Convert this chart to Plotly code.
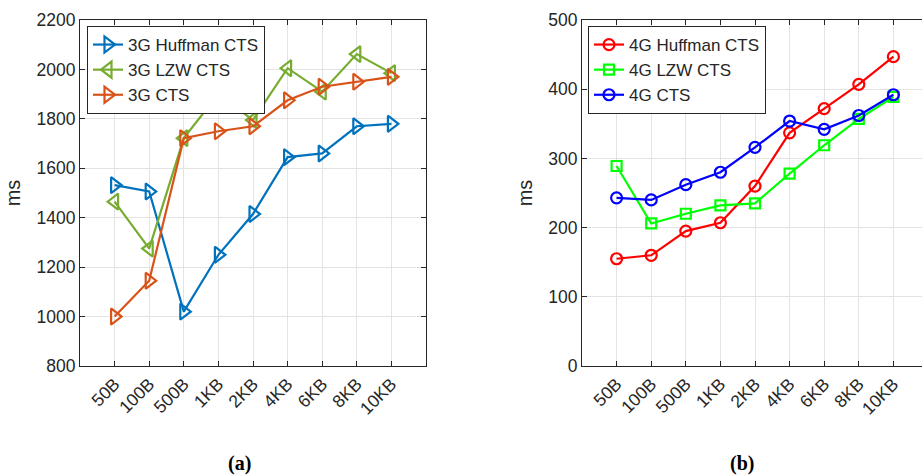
import plotly.graph_objects as go

# Payload sizes (shared by both panels)
sizes = ["50B", "100B", "500B", "1KB", "2KB", "4KB", "6KB", "8KB", "10KB"]

# 3G latency (ms)
g3_huffman = [1532, 1506, 1020, 1250, 1415, 1645, 1660, 1770, 1780]
g3_lzw = [1465, 1275, 1722, 1900, 1795, 2005, 1910, 2062, 1985]
g3_cts = [1000, 1145, 1722, 1750, 1770, 1875, 1930, 1950, 1970]

# 4G latency (ms)
g4_huffman = [155, 160, 195, 207, 260, 337, 372, 407, 447]
g4_lzw = [289, 206, 220, 232, 235, 278, 319, 357, 389]
g4_cts = [243, 240, 262, 280, 316, 354, 342, 362, 392]

W, H = 922, 475
FONT = "Liberation Sans, Arial, Helvetica, sans-serif"
INK = "#262626"
GRID = "#e3e3e3"

fig = go.Figure()

def add_series(x_ax, y_ax, legend, name, values, color, symbol, size):
    fig.add_trace(go.Scatter(
        x=sizes, y=values, name=name, mode="lines+markers",
        xaxis=x_ax, yaxis=y_ax, legend=legend,
        line=dict(color=color, width=2.2),
        marker=dict(symbol=symbol, size=size, color=color, line=dict(width=2.2, color=color)),
    ))

# Panel (a): 3G
add_series("x", "y", "legend", "3G Huffman CTS", g3_huffman, "#0072BD", "triangle-right-open", 14)
add_series("x", "y", "legend", "3G LZW CTS", g3_lzw, "#77AC30", "triangle-left-open", 14)
add_series("x", "y", "legend", "3G CTS", g3_cts, "#D95319", "triangle-right-open", 14)

# Panel (b): 4G
add_series("x2", "y2", "legend2", "4G Huffman CTS", g4_huffman, "#FF0000", "circle-open", 11)
add_series("x2", "y2", "legend2", "4G LZW CTS", g4_lzw, "#00FF00", "square-open", 10)
add_series("x2", "y2", "legend2", "4G CTS", g4_cts, "#0000FF", "circle-open", 11)

def px_x(p):
    return p / W

def px_y(p):
    return 1 - p / H

axis_common = dict(
    showgrid=True, gridcolor=GRID, gridwidth=1,
    showline=True, linecolor=INK, linewidth=1,
    ticks="inside", ticklen=5, tickcolor=INK, tickwidth=1,
    tickfont=dict(family=FONT, size=17.5, color=INK),
    zeroline=False, automargin=False,
)

y_dom = [px_y(366), px_y(20)]

fig.update_layout(
    width=W, height=H,
    margin=dict(l=0, r=0, t=0, b=0, autoexpand=False),
    paper_bgcolor="white", plot_bgcolor="white",
    font=dict(family=FONT, color=INK),
    xaxis=dict(axis_common, type="category", domain=[px_x(80), px_x(426)],
               range=[-1, 9], tickangle=-45, mirror="ticks", anchor="y"),
    yaxis=dict(axis_common, domain=y_dom, range=[800, 2200], dtick=200,
               mirror="ticks", anchor="x",
               title=dict(text="ms", font=dict(family=FONT, size=20, color=INK), standoff=10)),
    xaxis2=dict(axis_common, type="category", domain=[px_x(582), 1.0],
                range=[-1, -1 + (922 - 582) / 34.6], tickangle=-45, mirror="ticks", anchor="y2"),
    yaxis2=dict(axis_common, domain=y_dom, range=[0, 500], dtick=100,
                mirror=False, anchor="x2",
                title=dict(text="ms", font=dict(family=FONT, size=20, color=INK), standoff=10)),
    legend=dict(x=px_x(87), y=px_y(26), xanchor="left", yanchor="top",
                bgcolor="white", bordercolor=INK, borderwidth=1,
                font=dict(family=FONT, size=17, color=INK),
                itemwidth=30, tracegroupgap=0),
    legend2=dict(x=px_x(588), y=px_y(26), xanchor="left", yanchor="top",
                 bgcolor="white", bordercolor=INK, borderwidth=1,
                 font=dict(family=FONT, size=17, color=INK),
                 itemwidth=30, tracegroupgap=0),
    showlegend=True,
    annotations=[
        dict(text="<b>(a)</b>", x=px_x(240), y=px_y(463), xref="paper", yref="paper",
             showarrow=False, xanchor="center", yanchor="middle",
             font=dict(family="Liberation Serif, DejaVu Serif, serif", size=20, color="black")),
        dict(text="<b>(b)</b>", x=px_x(742), y=px_y(463), xref="paper", yref="paper",
             showarrow=False, xanchor="center", yanchor="middle",
             font=dict(family="Liberation Serif, DejaVu Serif, serif", size=20, color="black")),
    ],
)

fig.write_html("out.html")
